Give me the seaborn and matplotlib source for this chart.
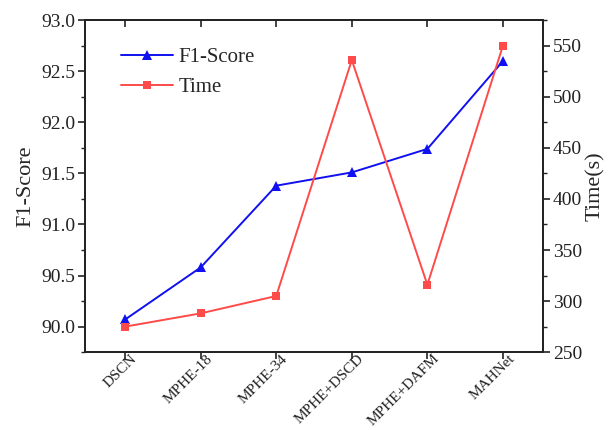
import matplotlib
matplotlib.use("Agg")
import matplotlib.pyplot as plt
from matplotlib.ticker import MultipleLocator
from matplotlib.transforms import ScaledTranslation
import seaborn as sns
import pandas as pd

models = ["DSCN", "MPHE-18", "MPHE-34", "MPHE+DSCD", "MPHE+DAFM", "MAHNet"]
f1_score = [90.07, 90.58, 91.38, 91.51, 91.74, 92.60]
time_s = [275, 288, 305, 536, 316, 550]
f1_ticks = [90.0, 90.5, 91.0, 91.5, 92.0, 92.5, 93.0]
time_ticks = [250, 300, 350, 400, 450, 500, 550]

df = pd.DataFrame({"Model": models, "F1": f1_score, "Time": time_s})
df["pos"] = range(len(models))

sns.set_style("ticks")
plt.rcParams["font.family"] = ["Liberation Serif", "DejaVu Serif"]

fig = plt.figure(figsize=(6.08, 4.30), dpi=100)
ax = fig.add_axes([0.140, 0.181, 0.753, 0.772])
ax2 = ax.twinx()

blue = "#1010F0"
red = "#FF4A4A"
ink = "#222222"

sns.lineplot(data=df, x="pos", y="F1", ax=ax, color=blue, marker="^",
             markersize=7, markeredgewidth=0, linewidth=1.4, label="F1-Score",
             legend=False)
sns.lineplot(data=df, x="pos", y="Time", ax=ax2, color=red, marker="s",
             markersize=6, markeredgewidth=0, linewidth=1.4, label="Time",
             legend=False)

ax.set_xlim(-0.53, len(models) - 1 + 0.53)
ax.set_ylim(89.75, 93.0)
ax2.set_ylim(250, 575)

ax.set_xticks(df["pos"])
ax.set_xticklabels(models, rotation=45, ha="right", va="top",
                   rotation_mode="anchor", fontsize=11)
ax.set_yticks(f1_ticks)
ax.set_yticklabels([f"{v:.1f}" for v in f1_ticks])
ax.yaxis.set_minor_locator(MultipleLocator(0.25))
ax2.set_yticks(time_ticks)
ax2.yaxis.set_minor_locator(MultipleLocator(25))

ax.set_xlabel("")
ax.set_ylabel("F1-Score", fontsize=16, labelpad=4)
ax2.set_ylabel("Time(s)", fontsize=16, labelpad=3)

for a in (ax, ax2):
    for s in a.spines.values():
        s.set_visible(True)
        s.set_linewidth(1.3)
        s.set_color(ink)
for a in (ax, ax2):
    a.tick_params(axis="y", which="major", labelsize=14, length=5, width=1.2,
                  direction="out", colors=ink, pad=2)
    a.tick_params(axis="y", which="minor", length=3, width=1.0,
                  direction="out", colors=ink)
ax.tick_params(axis="x", which="major", length=5, width=1.2, direction="out",
               colors=ink, top=True, pad=0)

# nudge the rotated category labels up and to the right of their ticks
shift = ScaledTranslation(5 / 100, 7 / 100, fig.dpi_scale_trans)
for lab in ax.get_xticklabels():
    lab.set_transform(lab.get_transform() + shift)
for lab in ax.get_xticklabels() + ax.get_yticklabels() + ax2.get_yticklabels():
    lab.set_color(ink)

# ticks along the top spine point into the plot
for t in ax.xaxis.get_major_ticks():
    t.tick2line.set_marker(3)

h1, l1 = ax.get_legend_handles_labels()
h2, l2 = ax2.get_legend_handles_labels()
ax.legend(h1 + h2, l1 + l2, loc="upper left", bbox_to_anchor=(0.05, 0.955),
          frameon=False, fontsize=15, handlelength=2.5, handletextpad=0.3,
          labelspacing=0.5, borderaxespad=0.2)

fig.savefig("out.png", dpi=100)
